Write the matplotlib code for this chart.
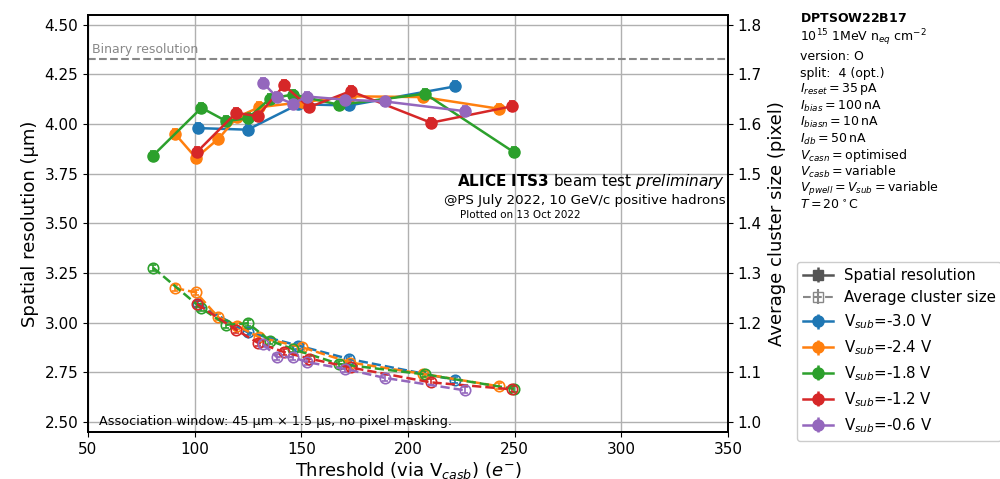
import numpy as np
import matplotlib
matplotlib.use("Agg")
import matplotlib.pyplot as plt

# Threshold (e-), spatial resolution (um) and average cluster size (pixel) per substrate voltage
vsub_labels = ["-3.0", "-2.4", "-1.8", "-1.2", "-0.6"]
colors = ["#1f77b4", "#ff7f0e", "#2ca02c", "#d62728", "#9467bd"]

thr_m30 = [101.4, 124.8, 148.6, 172.5, 222.1]
res_m30 = [3.980, 3.972, 4.100, 4.094, 4.190]
clu_m30 = [1.238, 1.181, 1.154, 1.127, 1.085]

thr_m24 = [90.8, 100.6, 111.1, 120.0, 130.2, 150.1, 173.0, 207.2, 242.8]
res_m24 = [3.951, 3.830, 3.926, 4.035, 4.085, 4.110, 4.140, 4.136, 4.077]
clu_m24 = [1.270, 1.261, 1.211, 1.194, 1.171, 1.151, 1.120, 1.097, 1.072]

thr_m18 = [80.5, 103.2, 114.8, 125.0, 135.3, 146.1, 167.8, 208.0, 249.6]
res_m18 = [3.842, 4.082, 4.015, 4.030, 4.128, 4.149, 4.097, 4.153, 3.859]
clu_m18 = [1.311, 1.229, 1.196, 1.199, 1.164, 1.147, 1.117, 1.096, 1.067]

thr_m12 = [101.0, 119.4, 129.5, 141.9, 153.6, 173.1, 210.8, 248.9]
res_m12 = [3.859, 4.057, 4.040, 4.195, 4.085, 4.166, 4.007, 4.090]
clu_m12 = [1.238, 1.186, 1.160, 1.141, 1.128, 1.110, 1.080, 1.066]

thr_m06 = [132.2, 138.5, 146.0, 152.5, 170.5, 189.2, 226.7]
res_m06 = [4.206, 4.136, 4.102, 4.139, 4.123, 4.114, 4.065]
clu_m06 = [1.157, 1.131, 1.131, 1.121, 1.107, 1.089, 1.064]

thresholds = [thr_m30, thr_m24, thr_m18, thr_m12, thr_m06]
resolutions = [res_m30, res_m24, res_m18, res_m12, res_m06]
cluster_sizes = [clu_m30, clu_m24, clu_m18, clu_m12, clu_m06]

res_err = 0.025
clu_err = 0.006
pitch = 15.0  # um
binary_res = pitch / np.sqrt(12)

fig = plt.figure(figsize=(10, 4.79), dpi=100)
ax = fig.add_axes([0.088, 0.098, 0.640, 0.871])
ax2 = ax.twinx()

for thr, res, clu, c in zip(thresholds, resolutions, cluster_sizes, colors):
    ax.errorbar(thr, res, yerr=res_err, color=c, marker="o", ms=8, lw=1.8,
                capsize=2, elinewidth=1.5, capthick=1.2, zorder=3)
    ax2.errorbar(thr, clu, yerr=clu_err, color=c, marker="o", ms=7.5, mfc="none",
                 mew=1.2, ls="--", lw=1.8, capsize=2, elinewidth=1.2, zorder=3)

ax.axhline(binary_res, color="#888888", ls="--", lw=1.5, zorder=2)
ax.text(52, binary_res + 0.013, "Binary resolution", color="#888888",
        fontsize=9, va="bottom", ha="left")

ax.set_xlim(50, 350)
ax.set_ylim(2.45, 4.55)
ax2.set_ylim(0.98, 1.82)
ax.set_xticks(np.arange(50, 351, 50))
ax.set_yticks(np.arange(2.5, 4.51, 0.25))
ax.set_yticklabels([f"{v:.2f}" for v in np.arange(2.5, 4.51, 0.25)])
ax2.set_yticks(np.arange(1.0, 1.81, 0.1))
ax2.set_yticklabels([f"{v:.1f}" for v in np.arange(1.0, 1.81, 0.1)])
ax.grid(True, color="#b0b0b0", lw=1.0)
ax.set_axisbelow(True)
ax.tick_params(labelsize=11)
ax2.tick_params(labelsize=11)
for a in (ax, ax2):
    for s in a.spines.values():
        s.set_linewidth(1.3)

ax.set_xlabel("Threshold (via V$_{casb}$) ($e^{-}$)", fontsize=13, labelpad=2)
ax.set_ylabel("Spatial resolution (µm)", fontsize=13)
ax2.set_ylabel("Average cluster size (pixel)", fontsize=13)

ax.text(55, 2.47, "Association window: 45 µm × 1.5 µs, no pixel masking.",
        fontsize=9.2, ha="left", va="bottom")

# Beam test banner
ax.text(0.995, 0.601, r"$\bf{ALICE\ ITS3}$ beam test $\it{preliminary}$",
        transform=ax.transAxes, ha="right", va="center", fontsize=11)
ax.text(0.997, 0.556, "@PS July 2022, 10 GeV/c positive hadrons",
        transform=ax.transAxes, ha="right", va="center", fontsize=9.6)
ax.text(0.581, 0.520, "Plotted on 13 Oct 2022",
        transform=ax.transAxes, ha="left", va="center", fontsize=7.5)

# Sensor and setting description
info = [
    (r"$\bf{DPTSOW22B17}$", 18),
    (r"10$^{15}$ 1MeV n$_{eq}$ cm$^{-2}$", 38),
    ("version: O", 57),
    ("split:  4 (opt.)", 73),
    (r"$I_{reset}=35\,$pA", 89),
    (r"$I_{bias}=100\,$nA", 106),
    (r"$I_{biasn}=10\,$nA", 122),
    (r"$I_{db}=50\,$nA", 139),
    (r"$V_{casn}=$optimised", 155),
    (r"$V_{casb}=$variable", 172),
    (r"$V_{pwell}=V_{sub}=$variable", 189),
    (r"$T=20\,^{\circ}\,$C", 205),
]
for txt, ypx in info:
    fig.text(0.800, 1 - ypx / 479, txt, fontsize=9, ha="left", va="center")

handles = [
    ax.errorbar([], [], yerr=[], color="#555555", marker="s", ms=7, lw=1.8, capsize=2),
    ax.errorbar([], [], yerr=[], color="#888888", marker="s", ms=7, mfc="none",
                ls="--", lw=1.5, capsize=2),
]
labels = ["Spatial resolution", "Average cluster size"]
for c, v in zip(colors, vsub_labels):
    handles.append(ax.errorbar([], [], yerr=[], color=c, marker="o", ms=8, lw=1.8, capsize=2))
    labels.append(f"V$_{{sub}}$={v} V")
fig.legend(handles, labels, loc="upper left", bbox_to_anchor=(0.797, 0.453),
           borderaxespad=0.0, fontsize=10.8, framealpha=1.0, handlelength=2.0,
           handletextpad=0.7, labelspacing=0.48)

fig.savefig("out.png", dpi=100)
